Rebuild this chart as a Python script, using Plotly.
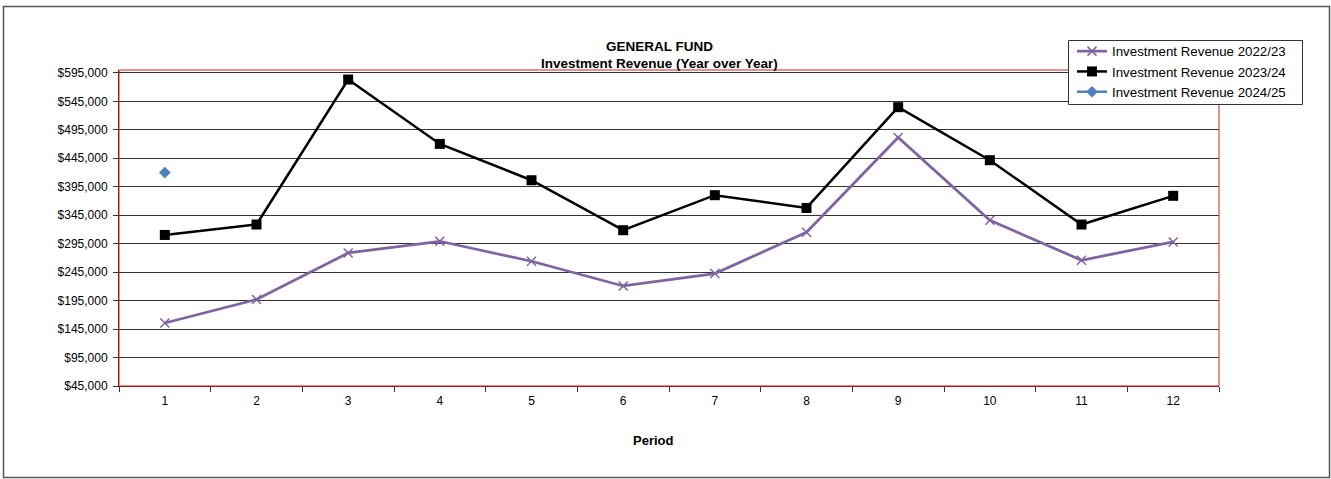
import plotly.graph_objects as go

periods = ["1", "2", "3", "4", "5", "6", "7", "8", "9", "10", "11", "12"]
rev_2022_23 = [155700, 196800, 278700, 299200, 264100, 220700, 242500, 315000, 481400, 336100, 265900, 298000]
rev_2023_24 = [310300, 328600, 583300, 470200, 406400, 318600, 380100, 357700, 534700, 441600, 328600, 379000]
rev_2024_25 = [419900]

y_ticks = list(range(45000, 600000, 50000))
y_tick_text = ["${:,}".format(v) for v in y_ticks]

W, H = 1331, 479
L, R, T, B = 119, 112, 70, 93
pw, ph = W - L - R, H - T - B


def px_x(x):
    return (x - L) / pw


def px_y(y):
    return (H - B - y) / ph


fig = go.Figure()
fig.add_trace(go.Scatter(
    x=periods, y=rev_2022_23, name="Investment Revenue 2022/23",
    mode="lines+markers",
    line=dict(color="#8064A2", width=2.75),
    marker=dict(symbol="x-thin", size=9, line=dict(color="#8064A2", width=1.5)),
))
fig.add_trace(go.Scatter(
    x=periods, y=rev_2023_24, name="Investment Revenue 2023/24",
    mode="lines+markers",
    line=dict(color="#000000", width=2.5),
    marker=dict(symbol="square", size=10, color="#000000"),
))
fig.add_trace(go.Scatter(
    x=periods[:len(rev_2024_25)], y=rev_2024_25, name="Investment Revenue 2024/25",
    mode="lines+markers",
    line=dict(color="#4F81BD", width=2.5),
    marker=dict(symbol="diamond", size=9, color="#4F81BD"),
))

fig.update_layout(
    width=W, height=H,
    margin=dict(l=L, r=R, t=T, b=B, pad=0),
    paper_bgcolor="white", plot_bgcolor="white",
    font=dict(family="Arial, Liberation Sans, sans-serif", size=12, color="#000000"),
    showlegend=True,
    legend=dict(
        x=px_x(1072), y=px_y(36), xanchor="left", yanchor="top",
        bgcolor="rgba(0,0,0,0)", borderwidth=0,
        font=dict(size=13.3, color="#000000"),
        tracegroupgap=0,
    ),
    xaxis=dict(
        type="category", tickson="boundaries",
        range=[-0.5, 11.5],
        showgrid=False, zeroline=False,
        showline=True, linecolor="#5a1515", linewidth=1,
        ticks="outside", ticklen=5, tickcolor="#333333",
        tickfont=dict(size=12),
        ticklabelstandoff=4,
        fixedrange=True,
    ),
    yaxis=dict(
        range=[45000, 600000],
        tickvals=y_ticks, ticktext=y_tick_text,
        showgrid=True, gridcolor="#333333", gridwidth=1,
        zeroline=False,
        showline=True, linecolor="#5a1515", linewidth=1,
        ticks="outside", ticklen=5, tickcolor="#333333",
        tickfont=dict(size=12),
        ticklabelstandoff=3,
        fixedrange=True,
    ),
    shapes=[
        dict(type="rect", xref="paper", yref="paper", x0=0, x1=1, y0=0, y1=1,
             line=dict(color="#d42020", width=1), layer="above"),
        dict(type="rect", xref="paper", yref="paper",
             x0=px_x(3.5), x1=px_x(1329.5), y0=px_y(477.5), y1=px_y(6.5),
             line=dict(color="#555555", width=1.5), layer="below"),
        dict(type="rect", xref="paper", yref="paper",
             x0=px_x(1068.5), x1=px_x(1302.5), y0=px_y(104.5), y1=px_y(40.5),
             line=dict(color="#333333", width=1), fillcolor="white", layer="above"),
    ],
    annotations=[
        dict(text="<b>GENERAL FUND</b>", x=px_x(659), y=px_y(46), xref="paper", yref="paper",
             showarrow=False, font=dict(size=13.5), xanchor="center", yanchor="middle"),
        dict(text="<b>Investment Revenue (Year over Year)</b>", x=px_x(659), y=px_y(63),
             xref="paper", yref="paper",
             showarrow=False, font=dict(size=13.5), xanchor="center", yanchor="middle"),
        dict(text="<b>Period</b>", x=px_x(653), y=px_y(440), xref="paper", yref="paper",
             showarrow=False, font=dict(size=13), xanchor="center", yanchor="middle"),
    ],
)

fig.write_html(
    "out.html",
    config={"displayModeBar": False},
    post_script="document.body.style.margin='0';document.body.style.padding='0';document.body.style.overflow='hidden';",
)
